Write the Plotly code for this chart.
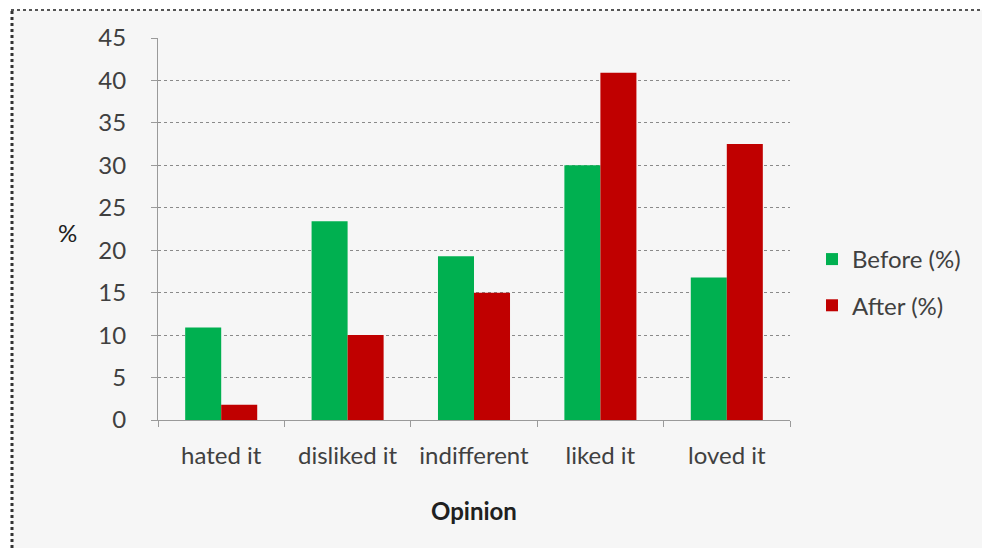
import plotly.graph_objects as go

# Survey opinion shares, before and after
opinions = ["hated it", "disliked it", "indifferent", "liked it", "loved it"]
before_pct = [10.9, 23.4, 19.3, 30.0, 16.8]
after_pct = [1.8, 10.0, 15.0, 40.9, 32.5]
y_ticks = [0, 5, 10, 15, 20, 25, 30, 35, 40, 45]

FONT = "Lato, Open Sans, sans-serif"
TEXT = "#404040"
SIZE = 24

fig = go.Figure()
fig.add_trace(go.Bar(name="Before (%)", x=opinions, y=before_pct, legendgroup="b",
                     marker=dict(color="#00B050", line=dict(width=0))))
fig.add_trace(go.Bar(name="After (%)", x=opinions, y=after_pct, legendgroup="a",
                     marker=dict(color="#C00000", line=dict(width=0))))

fig.update_layout(
    width=982, height=548,
    margin=dict(l=158, r=192, t=38, b=128),
    paper_bgcolor="white",
    plot_bgcolor="#f6f6f6",
    barmode="group",
    bargap=0.43,
    bargroupgap=0,
    font=dict(family=FONT, size=SIZE, color=TEXT),
    showlegend=True,
    legend=dict(x=1.0, xanchor="left", y=0.36, yanchor="middle",
                xref="paper", yref="paper",
                font=dict(family=FONT, size=SIZE, color=TEXT),
                bgcolor="rgba(0,0,0,0)", itemsizing="constant",
                tracegroupgap=12, traceorder="grouped",
                indentation=22),
    xaxis=dict(
        type="category",
        showgrid=False,
        showline=True, linecolor="#9a9a9a", linewidth=1,
        ticks="outside", tickson="boundaries", ticklen=6, tickcolor="#9a9a9a",
        tickfont=dict(family=FONT, size=SIZE, color=TEXT),
        ticklabelstandoff=14,
    ),
    yaxis=dict(
        range=[0, 45],
        tickvals=y_ticks,
        showgrid=True, gridcolor="#8a8a8a", griddash="dot", gridwidth=1,
        showline=True, linecolor="#9a9a9a", linewidth=1,
        ticks="outside", ticklen=6, tickcolor="#9a9a9a",
        zeroline=False,
        tickfont=dict(family=FONT, size=SIZE, color=TEXT),
        ticklabelstandoff=20,
    ),
    annotations=[
        dict(text="%", x=(67 - 158) / 632, y=(420 - 232) / 382,
             xref="paper", yref="paper", xanchor="center", yanchor="middle",
             showarrow=False, font=dict(family=FONT, size=SIZE, color="#202020")),
        dict(text="<b>Opinion</b>", x=0.5, xref="paper",
             y=(420 - 510) / 382, yref="paper", xanchor="center", yanchor="middle",
             showarrow=False, font=dict(family=FONT, size=SIZE, color="#202020")),
    ],
)

# Outer chart frame: light fill with a dark dotted top and left edge
fig.add_shape(type="rect", xref="paper", yref="paper",
              x0=(11 - 158) / 632, x1=(982 - 158) / 632,
              y0=(420 - 548) / 382, y1=(420 - 10) / 382,
              fillcolor="#f6f6f6", line=dict(width=0), layer="below")
fig.add_shape(type="line", xref="paper", yref="paper",
              x0=(11 - 158) / 632, x1=(982 - 158) / 632,
              y0=(420 - 10) / 382, y1=(420 - 10) / 382,
              line=dict(color="#555555", width=2, dash="dot"))
fig.add_shape(type="line", xref="paper", yref="paper",
              x0=(12 - 158) / 632, x1=(12 - 158) / 632,
              y0=(420 - 548) / 382, y1=(420 - 10) / 382,
              line=dict(color="#333333", width=3, dash="dot"))

fig.write_html("out.html")
